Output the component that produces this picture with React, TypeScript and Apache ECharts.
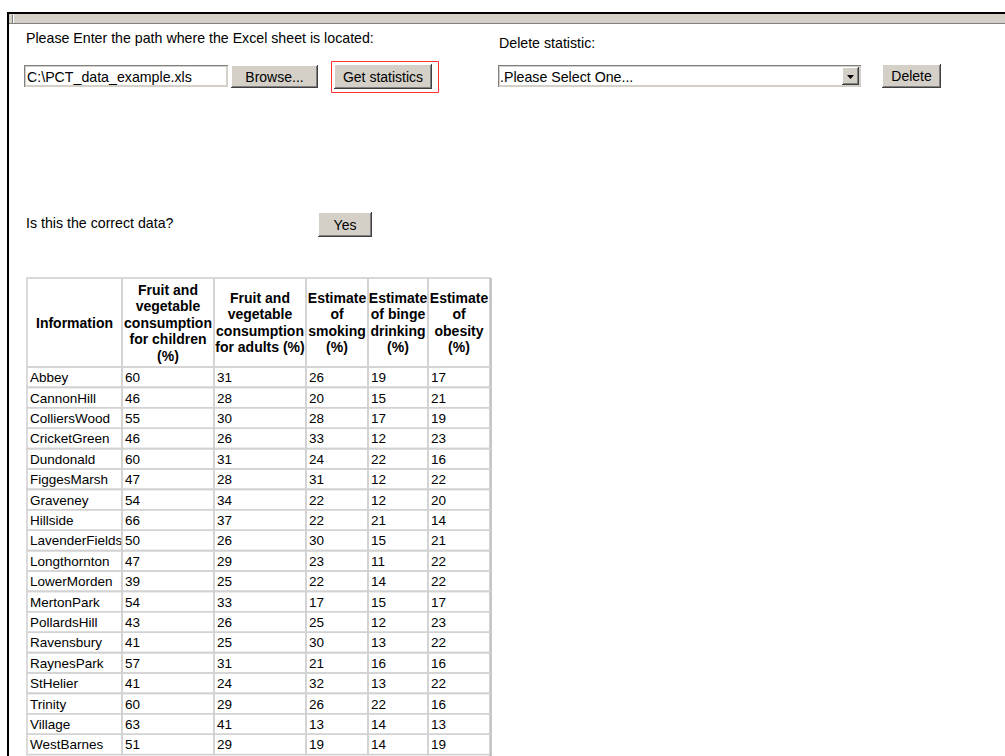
import React, { useEffect, useRef } from "react";
import * as echarts from "echarts";

// ---------- data ----------
const headers = [
  "Information",
  "Fruit and\nvegetable\nconsumption\nfor children\n(%)",
  "Fruit and\nvegetable\nconsumption\nfor adults (%)",
  "Estimate\nof\nsmoking\n(%)",
  "Estimate\nof binge\ndrinking\n(%)",
  "Estimate\nof\nobesity\n(%)",
];
const wards = [
  "Abbey", "CannonHill", "ColliersWood", "CricketGreen", "Dundonald", "FiggesMarsh",
  "Graveney", "Hillside", "LavenderFields", "Longthornton", "LowerMorden", "MertonPark",
  "PollardsHill", "Ravensbury", "RaynesPark", "StHelier", "Trinity", "Village", "WestBarnes",
];
const fruitVegChildren = [60, 46, 55, 46, 60, 47, 54, 66, 50, 47, 39, 54, 43, 41, 57, 41, 60, 63, 51];
const fruitVegAdults = [31, 28, 30, 26, 31, 28, 34, 37, 26, 29, 25, 33, 26, 25, 31, 24, 29, 41, 29];
const smoking = [26, 20, 28, 33, 24, 31, 22, 22, 30, 23, 22, 17, 25, 30, 21, 32, 26, 13, 19];
const bingeDrinking = [19, 15, 17, 12, 22, 12, 12, 21, 15, 11, 14, 15, 12, 13, 16, 13, 22, 14, 14];
const obesity = [17, 21, 19, 23, 16, 22, 20, 14, 21, 22, 22, 17, 23, 22, 16, 22, 16, 13, 19];

// ---------- form texts ----------
const pathLabel = "Please Enter the path where the Excel sheet is located:";
const pathValue = "C:\\PCT_data_example.xls";
const deleteLabel = "Delete statistic:";
const selectValue = ".Please Select One...";
const confirmLabel = "Is this the correct data?";

// ---------- layout ----------
const FONT = '"Liberation Sans", Arial, sans-serif';
const colWidths = [95, 92, 92, 62, 60, 62];
const colStart: number[] = [];
colWidths.reduce((acc, w) => { colStart.push(acc); return acc + w; }, 0);
const TABLE_W = colWidths.reduce((a, b) => a + b, 0);
const HEADER_H = 89;
const ROW_H = 20.4;
const TABLE_H = HEADER_H + wards.length * ROW_H;
const TABLE_LEFT = 27;
const TABLE_TOP = 278;

const columns = [wards, fruitVegChildren, fruitVegAdults, smoking, bingeDrinking, obesity];
const cells: { value: number[]; text: string }[] = [];
headers.forEach((h, c) => cells.push({ value: [c, 0], text: h }));
wards.forEach((_, r) => {
  columns.forEach((col, c) => cells.push({ value: [c, r + 1], text: String(col[r]) }));
});

function button(x: number, y: number, w: number, h: number, label: string) {
  return {
    type: "group",
    children: [
      { type: "rect", shape: { x, y, width: w, height: h }, style: { fill: "#404040" } },
      { type: "rect", shape: { x, y, width: w - 1, height: h - 1 }, style: { fill: "#ffffff" } },
      { type: "rect", shape: { x: x + 1, y: y + 1, width: w - 2, height: h - 2 }, style: { fill: "#808080" } },
      { type: "rect", shape: { x: x + 1, y: y + 1, width: w - 3, height: h - 3 }, style: { fill: "#d4d0c8" } },
      {
        type: "text", x: x + w / 2, y: y + h / 2,
        style: { text: label, font: `14px ${FONT}`, fill: "#000", textAlign: "center", textVerticalAlign: "middle" },
      },
    ],
  };
}

function inset(x: number, y: number, w: number, h: number) {
  return [
    { type: "rect", shape: { x, y, width: w, height: h }, style: { fill: "#808080" } },
    { type: "rect", shape: { x: x + 1, y: y + 1, width: w - 1, height: h - 1 }, style: { fill: "#d4d0c8" } },
    { type: "rect", shape: { x: x + 2, y: y + 2, width: w - 4, height: h - 4 }, style: { fill: "#ffffff" } },
  ];
}

function label(x: number, y: number, text: string) {
  return {
    type: "text", x, y,
    style: { text, font: `14.2px ${FONT}`, fill: "#000", textAlign: "left", textVerticalAlign: "middle" },
  };
}

export default function App() {
  const ref = useRef<HTMLDivElement>(null);
  useEffect(() => {
    const chart = echarts.init(ref.current!, null, { renderer: "svg" });
    const graphic: any[] = [
      // frame band
      { type: "rect", shape: { x: 9, y: 14, width: 996, height: 10 }, style: { fill: "#d4d0c8" } },
      { type: "rect", shape: { x: 9, y: 23, width: 996, height: 1 }, style: { fill: "#808080" } },
      { type: "rect", shape: { x: 12, y: 15, width: 1, height: 8 }, style: { fill: "#808080" } },
      { type: "rect", shape: { x: 13, y: 15, width: 1, height: 8 }, style: { fill: "#ffffff" } },
      {
        type: "text", x: 43, y: 15.5,
        style: { text: "this toolbar", font: `11px ${FONT}`, fill: "#555", textAlign: "left", textVerticalAlign: "bottom" },
      },
      { type: "rect", shape: { x: 0, y: 0, width: 1005, height: 12 }, style: { fill: "#ffffff" } },
      { type: "rect", shape: { x: 7, y: 12, width: 998, height: 2 }, style: { fill: "#000000" } },
      { type: "rect", shape: { x: 7, y: 12, width: 2, height: 744 }, style: { fill: "#000000" } },

      // path row
      label(26, 38, pathLabel),
      ...inset(24, 65, 204, 22),
      label(27, 77, pathValue),
      button(231, 65, 87, 23, "Browse..."),
      { type: "rect", shape: { x: 331.5, y: 61.5, width: 107, height: 31 }, style: { fill: "none", stroke: "#ff3030", lineWidth: 1 } },
      button(334, 64, 98, 25, "Get statistics"),

      // delete row
      label(499, 43, deleteLabel),
      ...inset(498, 65, 363, 22),
      label(500, 77, selectValue),
      button(842, 67, 17, 18, ""),
      { type: "polygon", shape: { points: [[847, 75], [854, 75], [850.5, 79]] }, style: { fill: "#000" } },
      button(882, 64, 59, 24, "Delete"),

      // confirm row
      label(26, 223, confirmLabel),
      button(318, 212, 54, 25, "Yes"),

      // table outer border
      { type: "rect", shape: { x: TABLE_LEFT, y: TABLE_TOP - 0.5, width: TABLE_W, height: 1 }, style: { fill: "#d8d8d8" } },
      { type: "rect", shape: { x: TABLE_LEFT + TABLE_W - 1, y: TABLE_TOP, width: 1, height: 480 }, style: { fill: "#d4d0c8" } },
      { type: "rect", shape: { x: TABLE_LEFT + TABLE_W, y: TABLE_TOP, width: 1.5, height: 480 }, style: { fill: "#909090" } },
    ];

    chart.setOption({
      animation: false,
      backgroundColor: "#ffffff",
      grid: { left: TABLE_LEFT, top: TABLE_TOP, width: TABLE_W, height: TABLE_H, show: false },
      xAxis: { type: "value", min: 0, max: TABLE_W, show: false },
      yAxis: { type: "value", min: 0, max: TABLE_H, inverse: true, show: false },
      graphic,
      series: [
        {
          type: "custom",
          data: cells,
          renderItem: (params: any, api: any) => {
            const c = api.value(0);
            const r = api.value(1);
            const x0 = colStart[c];
            const x1 = x0 + colWidths[c];
            const y0 = r === 0 ? 0 : HEADER_H + (r - 1) * ROW_H;
            const y1 = r === 0 ? HEADER_H : y0 + ROW_H;
            const p0 = api.coord([x0, y0]);
            const p1 = api.coord([x1, y1]);
            const text = cells[params.dataIndex].text;
            const isHeader = r === 0;
            return {
              type: "group",
              children: [
                {
                  type: "rect",
                  shape: { x: p0[0], y: p0[1], width: p1[0] - p0[0], height: p1[1] - p0[1] },
                  style: { fill: "none", stroke: "#d2d2d2", lineWidth: 1.6 },
                },
                {
                  type: "text",
                  x: isHeader ? (p0[0] + p1[0]) / 2 : p0[0] + 3,
                  y: (p0[1] + p1[1]) / 2 + (isHeader ? 0 : 0.5),
                  style: {
                    text,
                    font: isHeader ? `bold 14px ${FONT}` : `13.5px ${FONT}`,
                    fill: "#000",
                    textAlign: isHeader ? "center" : "left",
                    textVerticalAlign: "middle",
                    lineHeight: 16.5,
                  },
                },
              ],
            };
          },
        },
      ],
    });
    return () => chart.dispose();
  }, []);
  return (
    <div
      ref={ref}
      style={{ position: "fixed", left: 0, top: 0, width: 1005, height: 756, background: "#fff" }}
    />
  );
}
